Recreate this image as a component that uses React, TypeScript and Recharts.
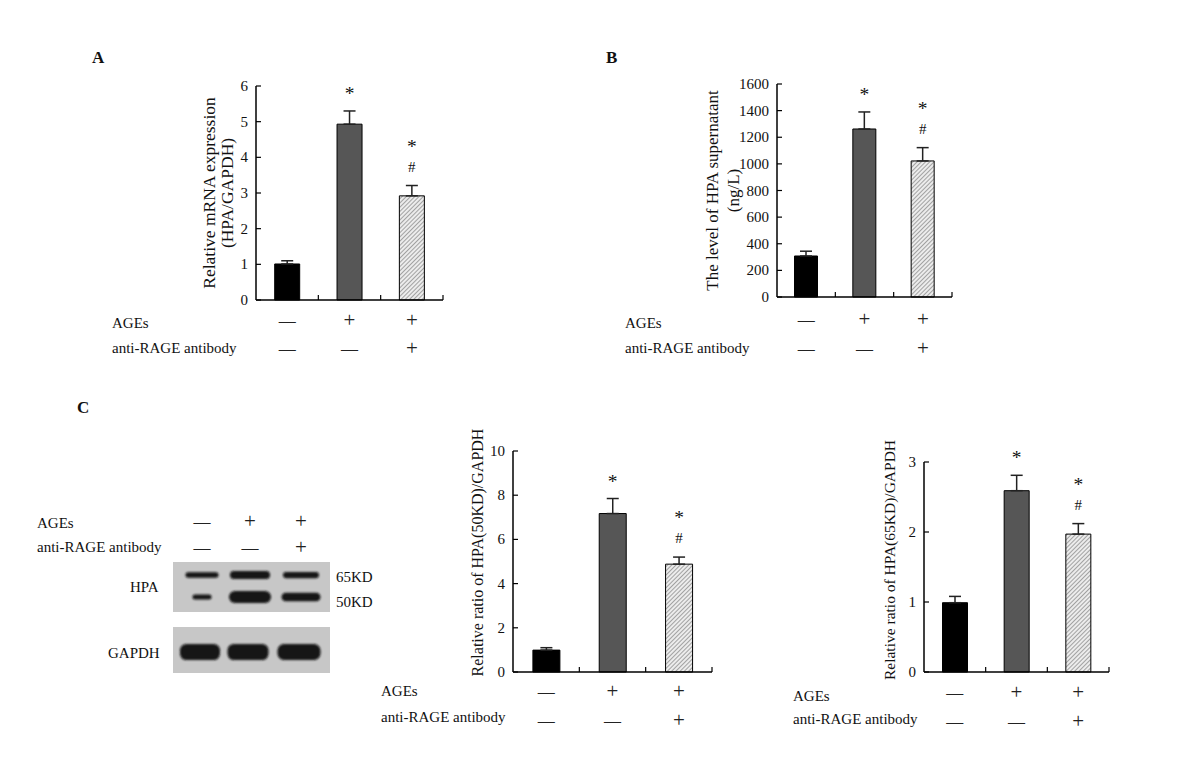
import React from 'react';
import { BarChart, Bar, XAxis, YAxis, ErrorBar, Cell, LabelList } from 'recharts';

// treatment groups and the +/- rows printed under each panel
const groups = ['Control', 'AGEs', 'AGEs + anti-RAGE'];
const agesRow = ['—', '+', '+'];
const antibodyRow = ['—', '—', '+'];
const sigMarks = ['', '*', '*#'];

// A: relative mRNA expression (HPA/GAPDH)
const mrnaMean = [1.01, 4.93, 2.92];
const mrnaSem = [0.09, 0.37, 0.29];
const mrnaTicks = [0, 1, 2, 3, 4, 5, 6];

// B: HPA in supernatant (ng/L)
const supernatantMean = [308, 1262, 1022];
const supernatantSem = [36, 128, 100];
const supernatantTicks = [0, 200, 400, 600, 800, 1000, 1200, 1400, 1600];

// C: western blot densitometry
const ratio50Mean = [0.99, 7.17, 4.88];
const ratio50Sem = [0.11, 0.68, 0.32];
const ratio50Ticks = [0, 2, 4, 6, 8, 10];

const ratio65Mean = [0.99, 2.59, 1.97];
const ratio65Sem = [0.09, 0.22, 0.15];
const ratio65Ticks = [0, 1, 2, 3];

// blot band strength per lane (relative thickness)
const band65 = [0.5, 1.0, 0.65];
const band50 = [0.3, 1.0, 0.65];
const bandGapdh = [1.0, 1.0, 0.95];

const FONT = '"Liberation Serif", "Times New Roman", serif';
const barFills = (id: string) => ['#000000', '#565656', `url(#hatch-${id})`];

const buildRows = (means: number[], sems: number[]) =>
  groups.map((g, i) => ({ group: g, value: means[i], err: [0, sems[i]], mark: sigMarks[i] }));

const Sym = ({ x, y, s }: { x: number; y: number; s: string }) => (
  <text
    x={x}
    y={y}
    dy={s === '+' ? 7 : 6}
    textAnchor="middle"
    fontSize={s === '+' ? 21 : 17}
    fontFamily={FONT}
    fill="#222"
  >
    {s}
  </text>
);

const YTick = (props: any) => {
  const { x, y, payload } = props;
  return (
    <g>
      <line x1={x + 8} x2={x + 13} y1={y} y2={y} stroke="#000" strokeWidth={1.2} />
      <text x={x} y={y} dy={5} textAnchor="end" fontSize={15} fontFamily={FONT} fill="#111">
        {payload.value}
      </text>
    </g>
  );
};

const makeXTick = (band: number, row1: number, row2: number) => (props: any) => {
  const { x, y, payload } = props;
  const i = props.index ?? payload.index ?? 0;
  return (
    <g>
      <line x1={x + band / 2} x2={x + band / 2} y1={y} y2={y - 5} stroke="#000" strokeWidth={1.2} />
      <Sym x={x} y={y + row1} s={agesRow[i]} />
      <Sym x={x} y={y + row2} s={antibodyRow[i]} />
    </g>
  );
};

const makeMarks = (means: number[], sems: number[]) => (props: any) => {
  const vb = props.viewBox ?? props;
  const i = props.index;
  const mark = sigMarks[i];
  if (!mark || !vb || !vb.height) return null;
  const pxPerUnit = vb.height / means[i];
  const errTop = vb.y - sems[i] * pxPerUnit;
  const cx = vb.x + vb.width / 2;
  const hasHash = mark.includes('#');
  const starCenter = hasHash ? errTop - 42 : errTop - 20;
  return (
    <g>
      <text x={cx} y={starCenter + 9} textAnchor="middle" fontSize={19.5} fontFamily={FONT} fill="#111">*</text>
      {hasHash && (
        <text x={cx} y={errTop - 19 + 5} textAnchor="middle" fontSize={15} fontFamily={FONT} fill="#111">#</text>
      )}
    </g>
  );
};

const makeYLabel = (lines: string[], xs: number[], fontSize: number, shift: number) => (props: any) => {
  const vb = props.viewBox;
  const cy = vb.y + vb.height / 2 + shift;
  return (
    <g>
      {lines.map((line, k) => (
        <text
          key={k}
          x={xs[k]}
          y={cy}
          dy={fontSize * 0.35}
          textAnchor="middle"
          fontSize={fontSize}
          fontFamily={FONT}
          fill="#111"
          transform={`rotate(-90, ${xs[k]}, ${cy})`}
        >
          {line}
        </text>
      ))}
    </g>
  );
};

interface PanelProps {
  id: string;
  left: number;
  top: number;
  width: number;
  height: number;
  margin: { top: number; right: number; bottom: number; left: number };
  yAxisWidth: number;
  xAxisHeight: number;
  means: number[];
  sems: number[];
  ticks: number[];
  yLabel: string[];
  yLabelX: number[];
  yLabelSize: number;
  yLabelShift: number;
  row1: number;
  row2: number;
}

function Panel(p: PanelProps) {
  const rows = buildRows(p.means, p.sems);
  const plotW = p.width - p.margin.left - p.margin.right - p.yAxisWidth;
  const band = plotW / groups.length;
  const fills = barFills(p.id);
  return (
    <div style={{ position: 'absolute', left: p.left, top: p.top }}>
      <BarChart width={p.width} height={p.height} data={rows} margin={p.margin} barCategoryGap="30%">
        <defs>
          <pattern
            id={`hatch-${p.id}`}
            patternUnits="userSpaceOnUse"
            width={3}
            height={3}
            patternTransform="rotate(45)"
          >
            <rect width={3} height={3} fill="#ececec" />
            <line x1={0} y1={0} x2={0} y2={3} stroke="#7a7a7a" strokeWidth={1.3} />
          </pattern>
        </defs>
        <XAxis
          dataKey="group"
          type="category"
          height={p.xAxisHeight}
          axisLine={{ stroke: '#000', strokeWidth: 1.5 }}
          tickLine={false}
          tickSize={0}
          tickMargin={0}
          interval={0}
          tick={makeXTick(band, p.row1, p.row2)}
        />
        <YAxis
          type="number"
          width={p.yAxisWidth}
          domain={[0, p.ticks[p.ticks.length - 1]]}
          ticks={p.ticks}
          interval={0}
          axisLine={{ stroke: '#000', strokeWidth: 1.5 }}
          tickLine={false}
          tickSize={0}
          tickMargin={8}
          tick={<YTick />}
          label={{ content: makeYLabel(p.yLabel, p.yLabelX, p.yLabelSize, p.yLabelShift) } as any}
        />
        <Bar dataKey="value" stroke="#000" strokeWidth={1} isAnimationActive={false}>
          {rows.map((r, i) => (
            <Cell key={r.group} fill={fills[i]} />
          ))}
          <ErrorBar dataKey="err" width={6} stroke="#222" strokeWidth={1.5} direction="y" isAnimationActive={false} />
          <LabelList dataKey="mark" content={makeMarks(p.means, p.sems)} />
        </Bar>
      </BarChart>
    </div>
  );
}

const textStyle = (left: number, top: number, size = 15): React.CSSProperties => ({
  position: 'absolute',
  left,
  top: top - size * 0.6,
  fontSize: size,
  lineHeight: `${size * 1.2}px`,
  fontFamily: FONT,
  color: '#111',
  whiteSpace: 'nowrap',
});

function RowLabels({ left, y1, y2 }: { left: number; y1: number; y2: number }) {
  return (
    <>
      <div style={textStyle(left, y1)}>AGEs</div>
      <div style={textStyle(left, y2)}>anti-RAGE antibody</div>
    </>
  );
}

function Blot() {
  const lanes = [202, 250, 301];
  const widths65 = [33, 40, 36];
  const widths50 = [19, 42, 39];
  const widthsG = [40, 41, 43];
  return (
    <svg style={{ position: 'absolute', left: 0, top: 0 }} width={1200} height={778}>
      <defs>
        <filter id="blur-band" x="-20%" y="-60%" width="140%" height="220%">
          <feGaussianBlur stdDeviation={1.1} />
        </filter>
      </defs>
      <rect x={173} y={562} width={157} height={50} fill="#c7c7c7" />
      <rect x={173} y={627} width={157} height={46} fill="#c7c7c7" />
      {lanes.map((cx, i) => {
        const h65 = 3 + band65[i] * 5;
        const h50 = 2 + band50[i] * 10;
        const hg = 14 + bandGapdh[i] * 2;
        return (
          <g key={i} filter="url(#blur-band)" fill="#121212">
            <rect x={cx - widths65[i] / 2} y={575 - h65 / 2} width={widths65[i]} height={h65} rx={h65 / 2} />
            <rect x={cx - widths50[i] / 2} y={597 - h50 / 2} width={widths50[i]} height={h50} rx={h50 / 2} />
            <rect x={cx - widthsG[i] / 2 - 2} y={652 - hg / 2} width={widthsG[i]} height={hg} rx={hg / 2.5} />
          </g>
        );
      })}
      {lanes.map((cx, i) => (
        <g key={`s${i}`}>
          <Sym x={cx} y={521} s={agesRow[i]} />
          <Sym x={cx} y={547} s={antibodyRow[i]} />
        </g>
      ))}
    </svg>
  );
}

export default function App() {
  return (
    <div
      style={{
        position: 'absolute',
        left: 0,
        top: 0,
        width: 1200,
        height: 778,
        background: '#fff',
        overflow: 'hidden',
        fontFamily: FONT,
      }}
    >
      <div style={{ ...textStyle(92, 58, 17), fontWeight: 'bold' }}>A</div>
      <div style={{ ...textStyle(606, 58, 17), fontWeight: 'bold' }}>B</div>
      <div style={{ ...textStyle(77, 408, 17), fontWeight: 'bold' }}>C</div>

      <Panel
        id="a"
        left={180}
        top={70}
        width={290}
        height={300}
        margin={{ top: 16, right: 27, bottom: 10, left: 36 }}
        yAxisWidth={40}
        xAxisHeight={60}
        means={mrnaMean}
        sems={mrnaSem}
        ticks={mrnaTicks}
        yLabel={['Relative mRNA expression', '(HPA/GAPDH)']}
        yLabelX={[29, 47]}
        yLabelSize={17.5}
        yLabelShift={0}
        row1={20}
        row2={48}
      />
      <RowLabels left={112} y1={323} y2={348} />

      <Panel
        id="b"
        left={690}
        top={70}
        width={290}
        height={300}
        margin={{ top: 14, right: 28, bottom: 10, left: 37 }}
        yAxisWidth={50}
        xAxisHeight={63}
        means={supernatantMean}
        sems={supernatantSem}
        ticks={supernatantTicks}
        yLabel={['The level of HPA supernatant', '(ng/L)']}
        yLabelX={[22, 43]}
        yLabelSize={17}
        yLabelShift={0}
        row1={22}
        row2={51}
      />
      <RowLabels left={625} y1={323} y2={348} />

      <Blot />
      <div style={textStyle(37, 523)}>AGEs</div>
      <div style={textStyle(37, 547)}>anti-RAGE antibody</div>
      <div style={textStyle(130, 587)}>HPA</div>
      <div style={textStyle(108, 653)}>GAPDH</div>
      <div style={textStyle(336, 577)}>65KD</div>
      <div style={textStyle(336, 602)}>50KD</div>

      <Panel
        id="c1"
        left={430}
        top={420}
        width={300}
        height={320}
        margin={{ top: 31, right: 18, bottom: 10, left: 43 }}
        yAxisWidth={40}
        xAxisHeight={58}
        means={ratio50Mean}
        sems={ratio50Sem}
        ticks={ratio50Ticks}
        yLabel={['Relative ratio of HPA(50KD)/GAPDH']}
        yLabelX={[47]}
        yLabelSize={16}
        yLabelShift={-9}
        row1={19}
        row2={48}
      />
      <RowLabels left={381} y1={691} y2={717} />

      <Panel
        id="c2"
        left={850}
        top={420}
        width={280}
        height={320}
        margin={{ top: 42, right: 21, bottom: 10, left: 40 }}
        yAxisWidth={34}
        xAxisHeight={58}
        means={ratio65Mean}
        sems={ratio65Sem}
        ticks={ratio65Ticks}
        yLabel={['Relative ratio of HPA(65KD)/GAPDH']}
        yLabelX={[40]}
        yLabelSize={15.5}
        yLabelShift={-7}
        row1={20}
        row2={49}
      />
      <RowLabels left={793} y1={696} y2={719} />
    </div>
  );
}
